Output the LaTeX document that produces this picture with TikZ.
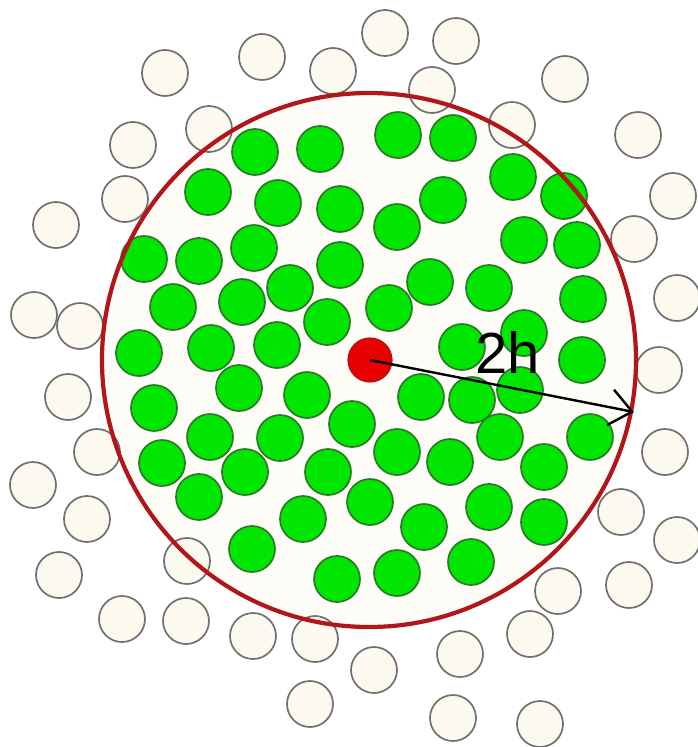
\documentclass[tikz,border=0pt]{standalone}
\usepackage{fontspec}
\setmainfont{Liberation Sans}
\usetikzlibrary{arrows.meta}
\definecolor{cream}{HTML}{FCF9EF}
\definecolor{inner}{HTML}{FEFCF6}
\definecolor{ballgreen}{HTML}{00E600}
\definecolor{balledge}{HTML}{2A7A2A}
\definecolor{greyedge}{HTML}{707070}
\definecolor{bigred}{HTML}{B0161A}
\definecolor{dotred}{HTML}{E60000}
\begin{document}
\begin{tikzpicture}[x=1pt,y=-1pt,
  whiteball/.style={circle,draw=greyedge,fill=cream,line width=1.7pt,minimum size=46pt,inner sep=0pt},
  greenball/.style={circle,draw=balledge,fill=ballgreen,line width=1.7pt,minimum size=46pt,inner sep=0pt},
  bigcircle/.style={draw=bigred,line width=4.2pt},
  centerdot/.style={circle,draw=bigred,fill=dotred,line width=1.2pt,minimum size=44pt,inner sep=0pt},
  radiusarrow/.style={draw=black,line width=2.4pt,-{Straight Barb[length=22pt,width=36pt,line width=2.4pt]}},
  label2h/.style={font=\fontsize{58}{60}\selectfont,inner sep=0pt}]
\useasboundingbox (0,0) rectangle (697,747);
\fill[white] (0,0) rectangle (697,747);
% interior of the sampling sphere
\fill[inner] (369,360) circle[radius=267];
% outer (white) particles
\foreach \x/\y [count=\i] in {165/73,262/57,333/71,385/33,456/41,432/90,565/79,512/125,
  209/129,133/145,125/199,56/225,638/135,673/196,634/239,34/315,80/326,677/298,
  68/397,659/370,97/452,665/452,33/485,87/519,621/512,677/540,59/575,187/561,
  122/619,186/621,253/636,315/639,310/704,558/591,629/585,530/634,460/654,
  374/670,453/718,540/724}
  \node[whiteball] (w\i) at (\x,\y) {};
% inner (green) particles
\foreach \x/\y [count=\i] in {255/152,320/149,398/135,453/138,513/177,564/196,
  208/192,278/203,340/209,443/200,397/227,524/240,577/245,
  144/259,199/261,254/248,340/265,173/307,242/302,290/288,327/322,
  430/282,489/288,583/299,389/308,524/333,462/347,582/360,
  139/353,211/348,277/345,239/388,307/395,352/424,421/397,472/400,520/390,
  154/408,210/437,280/438,500/437,590/437,397/452,450/462,544/467,
  162/463,245/472,328/472,199/497,303/519,370/502,424/527,489/507,544/522,
  252/549,337/579,397/573,471/562}
  \node[greenball] (g\i) at (\x,\y) {};
% sampling sphere boundary
\draw[bigcircle] (369,360) circle[radius=267];
% central particle
\node[centerdot] (c) at (370,360) {};
\coordinate (rim) at (634,412);
\draw[radiusarrow] (c.center) -- (rim);
\node[label2h,anchor=base] (lbl) at (508,373) {2h};
\end{tikzpicture}
\end{document}
